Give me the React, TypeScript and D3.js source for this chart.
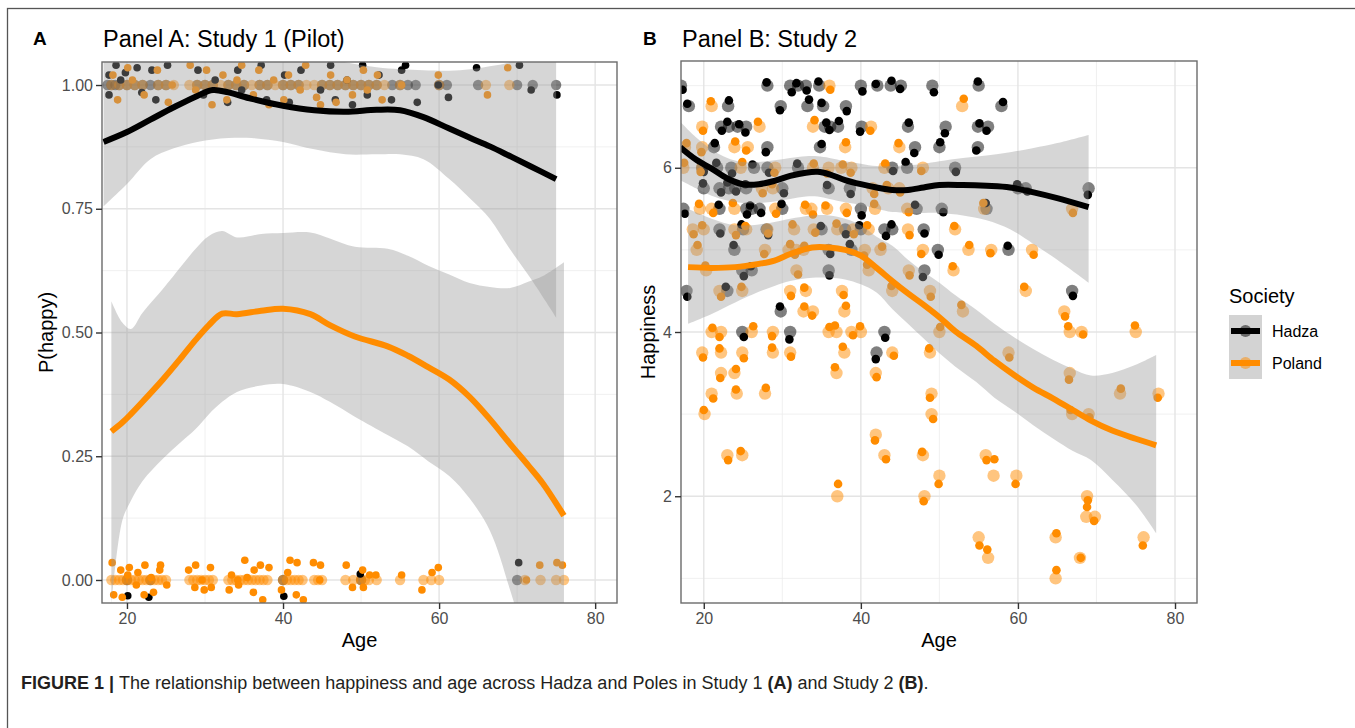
import React, { useEffect, useRef } from "react"
import * as d3 from "d3"

// [age, value, jitter in age, jitter in value] -> big dot at value, small dot at the jittered copy
type Obs = [number, number, number, number]
// [age, fit, lower, upper]
type Fit = [number, number, number, number]

const societies = ["Hadza", "Poland"]
const societyColors = ["#000000", "#ff8c00"]

const ageTicks = [20, 40, 60, 80]
const ageMinor = [30, 50, 70]
const probTicks = [0, 0.25, 0.5, 0.75, 1]
const probLabels = ["0.00", "0.25", "0.50", "0.75", "1.00"]
const probMinor = [0.125, 0.375, 0.625, 0.875]
const happyTicks = [2, 4, 6]
const happyLabels = ["2", "4", "6"]
const happyMinor = [1, 3, 5, 7]

// ---- Panel A: Study 1 (Pilot)
const hadzaA: Obs[] = [
  [17.5,1,0.2,0.02],[18,1,-0.3,-0.02],[18.5,1,0.1,0.04],[19,1,0.2,0.01],[20,1,-0.2,0.025],[21,1,0.3,0.035],[22,1,-0.1,-0.015],[23,1,0.2,0.03],[24,1,-0.3,-0.03],[25,1,0.2,0.04],
  [29,1,0.1,0.03],[30,1,-0.2,-0.02],[31,1,0.3,0.01],[33,1,-0.1,-0.035],[34,1,0.2,0.03],[35,1,-0.3,-0.01],[37,1,0.2,0.04],[38,1,-0.1,-0.03],[40,1,0.2,0.02],[41,1,-0.2,-0.035],[42,1,0.3,0.03],
  [45,1,-0.2,-0.01],[46,1,0.1,0.04],[47,1,-0.3,-0.03],[48,1,0.2,0.01],[49,1,-0.1,-0.04],[50,1,0.2,0.04],[51,1,-0.2,-0.02],[52,1,0.3,0.02],[54,1,-0.1,-0.03],[55,1,0.2,0.03],[56,1,-0.3,0.04],[57,1,0.2,-0.035],
  [60,1,-0.1,0.0],[61,1,0.2,-0.025],[65,1,-0.2,0.035],[70,1,0.3,0.04],[72,1,-0.2,-0.01],[75,1,0.1,-0.02],
  [20,0,0.1,-0.032],[23,0,-0.2,-0.035],[40,0,0.1,-0.033],[50,0,-0.1,0.012],[70,0,0.2,0.035],
]
const polandA: Obs[] = [
  [18,1,0.2,0.02],[19,1,-0.2,-0.03],[20,1,0.1,0.035],[21,1,-0.3,0.01],[22,1,0.2,-0.02],[24,1,-0.1,0.03],[25,1,0.3,-0.035],[26,1,-0.2,0.0],[28,1,0.1,0.04],[29,1,-0.2,-0.01],
  [30,1,0.2,0.03],[31,1,-0.1,-0.04],[32,1,0.3,0.02],[33,1,-0.2,-0.03],[34,1,0.1,0.01],[35,1,-0.3,0.04],[36,1,0.2,-0.02],[37,1,-0.1,0.03],[38,1,0.2,-0.04],[39,1,-0.2,0.01],
  [40,1,0.1,-0.03],[41,1,-0.3,0.02],[42,1,0.2,-0.01],[43,1,-0.1,0.04],[44,1,0.3,-0.025],[45,1,-0.2,-0.04],[46,1,0.1,0.02],[47,1,-0.2,-0.035],[48,1,0.2,0.01],[49,1,-0.1,-0.02],
  [50,1,0.3,0.03],[51,1,-0.2,-0.01],[52,1,0.1,0.02],[53,1,-0.3,-0.03],[55,1,0.2,0.0],[60,1,-0.1,0.02],[66,1,0.2,-0.02],[69,1,-0.2,0.035],
  [18,0,0.1,0.035],[18.5,0,-0.2,-0.03],[19,0,0.2,0.02],[19.5,0,-0.1,-0.035],[20,0,0.1,0.01],[20.5,0,-0.2,0.025],[21,0,0.2,-0.01],[21.5,0,-0.1,0.015],[22,0,0.2,-0.03],[22.5,0,-0.2,0.03],
  [23,0,0.1,0.005],[23.5,0,-0.1,-0.025],[24,0,0.2,0.02],[24.5,0,-0.2,0.03],[25,0,0.1,-0.01],[28,0,-0.1,0.02],[28.5,0,0.2,-0.015],[29,0,-0.2,0.03],[29.5,0,0.1,0.0],[30,0,-0.1,-0.02],
  [30.5,0,0.2,0.025],[31,0,-0.2,-0.015],[33,0,0.1,-0.02],[33.5,0,-0.1,0.01],[34,0,0.2,0.0],[34.5,0,-0.2,-0.01],[35,0,0.1,0.04],[35.5,0,-0.1,0.005],[36,0,0.2,-0.025],[36.5,0,-0.2,0.02],
  [37,0,0.1,0.03],[37.5,0,-0.1,-0.04],[38,0,0.2,0.025],[40,0,-0.2,-0.02],[40.5,0,0.1,0.015],[41,0,-0.1,0.04],[41.5,0,0.2,-0.03],[42,0,-0.2,0.035],[42.5,0,0.1,-0.04],[44,0,-0.1,0.035],
  [44.5,0,0.2,0.0],[45,0,-0.2,0.03],[48,0,0.1,0.03],[49,0,-0.1,-0.015],[50,0,0.2,0.02],[50.5,0,-0.2,-0.015],[51,0,0.1,0.01],[52,0,-0.1,0.01],[55,0,0.2,0.01],[58,0,-0.2,-0.02],
  [59,0,0.1,0.015],[60,0,-0.1,0.025],[71,0,0.2,0.0],[73,0,-0.1,0.03],[75,0,0.1,0.035],[76,0,-0.2,0.03],
]
const hadzaFitA: Fit[] = [
  [17,0.885,0.755,1.1],[20,0.905,0.8,1.08],[23,0.93,0.85,1.08],[26,0.955,0.872,1.09],[29,0.978,0.885,1.1],[31,0.99,0.89,1.1],[33,0.985,0.893,1.09],
  [36,0.972,0.893,1.08],[40,0.958,0.885,1.07],[44,0.949,0.87,1.06],[48,0.946,0.86,1.046],[52,0.95,0.86,1.036],[55,0.949,0.86,1.032],[58,0.935,0.85,1.03],
  [61.3,0.912,0.81,1.029],[64,0.893,0.77,1.032],[66.5,0.876,0.73,1.038],[69,0.857,0.67,1.046],[71.7,0.836,0.61,1.07],[75,0.81,0.53,1.1],
]
const polandFitA: Fit[] = [
  [18,0.3,-0.05,0.563],[19.4,0.318,0.12,0.52],[20.5,0.335,0.16,0.507],[22,0.36,0.2,0.54],[24.6,0.405,0.245,0.588],[27,0.45,0.28,0.635],[28.8,0.485,0.305,0.669],
  [30.5,0.515,0.335,0.695],[32.2,0.538,0.36,0.705],[34.1,0.537,0.38,0.692],[37.2,0.544,0.393,0.699],[40,0.548,0.396,0.701],[43.5,0.537,0.38,0.702],[46,0.515,0.36,0.69],
  [49.2,0.492,0.33,0.673],[53.4,0.472,0.293,0.669],[56,0.453,0.27,0.655],[58.6,0.43,0.24,0.635],[61.3,0.405,0.21,0.617],[63.9,0.37,0.165,0.6],[66.5,0.325,0.1,0.592],
  [69.1,0.275,-0.02,0.59],[71.5,0.23,-0.15,0.603],[73.3,0.195,-0.25,0.614],[76,0.13,-0.45,0.642],
]

// ---- Panel B: Study 2
const hadzaB: Obs[] = [
  [17.1,7,0.2,-0.05],[28.1,7,-0.1,0.04],[31,7,0.2,-0.08],[32,7,-0.2,0.03],[33,7,0.1,-0.06],[34.7,7,-0.1,0.05],[40,7,0.2,-0.07],[42.1,7,-0.2,0.02],[43.8,7,0.1,0.06],[45.1,7,-0.1,-0.04],[49.1,7,0.2,-0.08],[55,7,-0.1,0.05],
  [18.1,6.75,-0.2,0.03],[23.1,6.75,0.1,0.07],[29.8,6.75,-0.1,-0.05],[33.2,6.75,0.2,0.08],[35.2,6.75,-0.2,0.04],[38.1,6.75,0.1,-0.06],[57.9,6.75,0.2,0.05],
  [22.2,6.5,0.1,-0.05],[23.2,6.5,-0.2,0.06],[24.3,6.5,0.2,0.03],[25.4,6.5,-0.1,-0.07],[35.4,6.5,0.2,0.05],[36.1,6.5,-0.1,-0.04],[37.1,6.5,0.1,0.07],[40.1,6.5,-0.2,-0.06],[46,6.5,0.1,0.05],[50.8,6.5,-0.1,-0.08],[54.9,6.5,0.2,0.04],[56.2,6.5,-0.2,-0.05],
  [21.3,6.25,0.1,0.05],[28.1,6.25,-0.2,-0.06],[34.8,6.25,0.2,0.04],[46.9,6.25,-0.1,-0.07],[50,6.25,0.1,0.06],[54.9,6.25,-0.2,-0.04],
  [19.8,6,0.2,-0.05],[21.7,6,-0.1,0.06],[23.5,6,0.1,-0.07],[26.4,6,-0.2,0.04],[28.1,6,0.2,-0.06],[32,6,-0.1,0.05],[44,6,0.1,-0.04],[45.9,6,-0.2,0.07],[52,6,0.1,-0.05],
  [20,5.75,-0.1,0.06],[22,5.75,0.2,-0.05],[23.2,5.75,-0.2,0.07],[24,5.75,0.1,-0.04],[25.4,5.75,-0.1,0.05],[30,5.75,0.2,-0.06],[35.9,5.75,-0.2,0.04],[38.6,5.75,0.1,-0.07],[60,5.75,-0.1,0.05],[61,5.75,0.2,-0.04],[69,5.75,-0.1,-0.08],
  [17.4,5.5,0.2,-0.06],[22,5.5,-0.1,0.05],[25.4,5.5,0.1,-0.07],[26.1,5.5,-0.2,0.04],[27.1,5.5,0.2,-0.05],[30,5.5,-0.1,0.06],[40,5.5,0.1,-0.08],[47.1,5.5,-0.2,0.05],[50.3,5.5,0.2,-0.04],[56,5.5,-0.1,0.07],
  [22,5.25,0.1,-0.05],[25,5.25,-0.2,0.06],[28,5.25,0.2,-0.07],[35,5.25,-0.1,0.04],[38,5.25,0.1,-0.06],[40,5.25,-0.2,0.05],[43,5.25,0.2,-0.08],[44,5.25,-0.1,0.06],[48,5.25,0.1,-0.05],
  [23.9,5,-0.1,0.06],[35.9,5,0.2,-0.05],[38.8,5,-0.2,0.07],[49.8,5,0.1,-0.06],[58.8,5,-0.1,0.05],
  [24.9,4.75,0.2,-0.07],[26.1,4.75,-0.1,0.05],[35.9,4.75,0.1,-0.06],[48.1,4.75,-0.2,-0.08],
  [17.8,4.5,0.1,-0.07],[23,4.5,-0.2,0.05],[66.9,4.5,0.1,-0.06],
  [29.8,4.25,-0.1,0.06],
  [24.9,4,0.2,-0.06],[31,4,-0.1,-0.09],[43,4,0.1,-0.07],
  [42,3.75,-0.1,-0.08],
]
const polandB: Obs[] = [
  [36,7,0.1,-0.05],
  [21,6.75,-0.1,0.06],[52.9,6.75,0.2,0.09],
  [19.8,6.5,0.1,-0.05],[27.1,6.5,-0.2,0.06],[33.9,6.5,0.2,0.08],[41.3,6.5,-0.1,-0.05],
  [17.6,6.25,0.2,0.05],[19.8,6.25,-0.1,-0.06],[23.9,6.25,0.1,0.07],[25.6,6.25,-0.2,-0.04],[38,6.25,0.1,0.06],[44.9,6.25,-0.1,0.05],
  [17.4,6,0.1,0.06],[19.8,6,-0.2,-0.05],[24.7,6,0.2,0.07],[29.1,6,-0.1,-0.06],[33.9,6,0.1,0.05],[35.9,6,-0.2,-0.07],[37.5,6,0.2,0.04],[38.8,6,-0.1,-0.06],[43,6,0.1,0.05],[47.9,6,-0.2,-0.04],
  [27.4,5.75,0.1,-0.06],[28.8,5.75,-0.1,0.05],[41.5,5.75,0.2,-0.07],[43.5,5.75,-0.2,0.04],[44.9,5.75,0.1,-0.05],
  [19.5,5.5,-0.1,0.06],[21,5.5,0.2,-0.05],[23.9,5.5,-0.2,0.07],[29.1,5.5,0.1,-0.06],[33,5.5,-0.1,0.05],[33.7,5.5,0.2,-0.07],[35.7,5.5,-0.2,0.04],[38.1,5.5,0.1,-0.05],[41.8,5.5,-0.1,0.06],[45.9,5.5,0.2,-0.04],[55.7,5.5,-0.1,0.07],[66.9,5.5,0.1,-0.05],
  [18.6,5.25,0.1,-0.06],[20,5.25,-0.2,0.05],[23.9,5.25,0.2,-0.07],[25.4,5.25,-0.1,0.04],[28.1,5.25,0.1,-0.05],[31.5,5.25,-0.2,0.06],[34,5.25,0.2,-0.04],[37,5.25,-0.1,0.07],[39,5.25,0.1,-0.06],[41,5.25,-0.2,0.05],[46,5.25,0.2,-0.07],[52,5.25,-0.1,0.04],
  [19.1,5,0.1,0.06],[27.8,5,-0.1,-0.05],[30.8,5,0.2,0.07],[31.8,5,-0.2,-0.06],[32.7,5,0.1,0.05],[40.5,5,-0.1,-0.07],[42.5,5,0.2,0.04],[47.9,5,-0.2,-0.05],[53.7,5,0.1,0.06],[56.6,5,-0.1,-0.04],[61.8,5,0.2,-0.06],
  [20.3,4.75,-0.1,0.06],[31.8,4.75,0.2,-0.05],[41,4.75,-0.2,0.07],[46.1,4.75,0.1,-0.06],[51.8,4.75,-0.1,0.05],
  [22,4.5,0.2,-0.07],[24.9,4.5,-0.1,0.05],[31,4.5,0.1,-0.06],[33,4.5,-0.2,0.04],[37.6,4.5,0.2,-0.05],[44,4.5,-0.1,0.06],[48.8,4.5,0.1,-0.07],[61,4.5,-0.2,0.05],
  [32.7,4.25,0.1,0.06],[33.9,4.25,-0.1,-0.05],[37.9,4.25,0.2,0.07],[53,4.25,-0.2,0.08],[65.9,4.25,0.1,-0.06],
  [21,4,0.1,0.05],[22.2,4,-0.2,-0.06],[26.1,4,0.2,0.07],[28.8,4,-0.1,-0.05],[35.9,4,0.1,0.06],[36.9,4,-0.2,0.08],[38.8,4,0.2,-0.04],[40,4,-0.1,0.07],[50,4,0.1,0.06],[66.6,4,-0.2,0.07],[68.1,4,0.2,-0.03],[75,4,-0.1,0.08],
  [19.8,3.75,0.1,-0.06],[22.2,3.75,-0.2,0.05],[24.9,3.75,0.2,-0.07],[28.8,3.75,-0.1,0.06],[31,3.75,0.1,-0.05],[37.9,3.75,-0.2,0.07],[44,3.75,0.2,-0.04],[48.8,3.75,-0.1,0.05],[58.8,3.75,0.1,-0.06],
  [22.2,3.5,-0.1,-0.06],[23.9,3.5,0.2,0.05],[36.9,3.5,-0.2,0.07],[41.9,3.5,0.1,-0.05],[66.6,3.5,-0.1,-0.08],
  [21,3.25,0.2,-0.06],[24.2,3.25,-0.1,0.05],[27.8,3.25,0.1,0.07],[49,3.25,-0.2,-0.05],[73,3.25,0.1,0.06],[77.9,3.25,-0.1,-0.05],
  [20.1,3,-0.1,0.05],[49,3,0.2,-0.06],[66.9,3,-0.2,0.05],[69,3,0.1,-0.04],
  [41.9,2.75,-0.1,-0.07],
  [23,2.5,0.1,-0.06],[24.9,2.5,-0.2,0.05],[43,2.5,0.2,-0.05],[47.9,2.5,-0.1,0.04],[55.9,2.5,0.1,-0.06],
  [50,2.25,-0.1,-0.1],[56.9,2.25,0.1,0.2],[59.8,2.25,-0.1,-0.1],
  [37,2,0.1,0.15],[48.1,2,-0.1,-0.06],[68.8,2,0.1,-0.05],
  [68.7,1.75,0.1,0.12],[69.8,1.75,-0.1,-0.05],
  [55,1.5,0.1,-0.1],[64.8,1.5,0.1,0.05],[76,1.5,-0.1,-0.1],
  [56.2,1.25,-0.1,0.1],[67.9,1.25,0.1,0.0],
  [64.8,1,0.1,0.1],
]
const hadzaFitB: Fit[] = [
  [17,6.25,5.85,6.56],[19,6.1,5.75,6.37],[21,5.99,5.66,6.22],[23,5.87,5.6,6.12],[25,5.8,5.57,6.07],[27,5.8,5.57,6.07],[29,5.84,5.59,6.09],[31,5.9,5.62,6.12],
  [33,5.94,5.65,6.14],[34.5,5.95,5.65,6.14],[36,5.92,5.62,6.12],[38,5.85,5.58,6.08],[40,5.8,5.55,6.05],[42,5.76,5.5,6.02],[44,5.73,5.46,6.02],[46,5.73,5.45,6.03],
  [48,5.76,5.45,6.05],[50,5.79,5.45,6.08],[53,5.79,5.42,6.12],[56,5.78,5.36,6.15],[59,5.76,5.25,6.19],[62,5.7,5.07,6.24],[65,5.63,4.88,6.3],[69,5.52,4.6,6.4],
]
const polandFitB: Fit[] = [
  [18,4.79,4.1,5.5],[21,4.78,4.22,5.38],[24,4.79,4.36,5.3],[27,4.83,4.49,5.31],[29,4.87,4.56,5.34],[31,4.95,4.62,5.38],[33.8,5.03,4.66,5.42],[36,5.03,4.66,5.42],
  [38,5.0,4.64,5.38],[40,4.93,4.58,5.3],[42,4.78,4.48,5.16],[44,4.62,4.28,5.05],[46,4.47,4.1,4.88],[48,4.33,3.92,4.73],[50,4.18,3.74,4.6],[52,4.01,3.58,4.45],
  [54.7,3.83,3.39,4.27],[57,3.65,3.2,4.1],[59.6,3.47,3.03,3.93],[62,3.32,2.86,3.79],[64.5,3.19,2.7,3.66],[67,3.05,2.55,3.55],[69.3,2.92,2.44,3.47],[72,2.8,2.2,3.5],
  [75,2.7,1.9,3.6],[77.6,2.62,1.55,3.72],
]

const FONT = "'Liberation Sans', Arial, Helvetica, sans-serif"

function drawPanel(svg: any, p: any) {
  const x = d3.scaleLinear().domain(p.xDomain).range([p.left, p.right])
  const y = d3.scaleLinear().domain(p.yDomain).range([p.bottom, p.top])
  const clipId = "clip-" + p.id

  svg.append("clipPath").attr("id", clipId)
    .append("rect").attr("x", p.left).attr("y", p.top)
    .attr("width", p.right - p.left).attr("height", p.bottom - p.top)

  const grid = svg.append("g")
  grid.selectAll(".vmin").data(ageMinor).enter().append("line")
    .attr("x1", (d: number) => x(d)).attr("x2", (d: number) => x(d))
    .attr("y1", p.top).attr("y2", p.bottom)
    .attr("stroke", "#ececec").attr("stroke-width", 0.8)
  grid.selectAll(".hmin").data(p.yMinor).enter().append("line")
    .attr("x1", p.left).attr("x2", p.right)
    .attr("y1", (d: number) => y(d)).attr("y2", (d: number) => y(d))
    .attr("stroke", "#ececec").attr("stroke-width", 0.8)
  grid.selectAll(".vmaj").data(ageTicks).enter().append("line")
    .attr("x1", (d: number) => x(d)).attr("x2", (d: number) => x(d))
    .attr("y1", p.top).attr("y2", p.bottom)
    .attr("stroke", "#e4e4e4").attr("stroke-width", 1.4)
  grid.selectAll(".hmaj").data(p.yTicks).enter().append("line")
    .attr("x1", p.left).attr("x2", p.right)
    .attr("y1", (d: number) => y(d)).attr("y2", (d: number) => y(d))
    .attr("stroke", "#e4e4e4").attr("stroke-width", 1.4)

  const plot = svg.append("g").attr("clip-path", `url(#${clipId})`)

  // translucent points at the recorded value
  p.obs.forEach((obs: Obs[], i: number) => {
    plot.append("g").selectAll("circle").data(obs).enter().append("circle")
      .attr("cx", (d: Obs) => x(d[0])).attr("cy", (d: Obs) => y(d[1]))
      .attr("r", p.bigR).attr("fill", societyColors[i]).attr("fill-opacity", 0.5)
  })
  // jittered copies
  p.obs.forEach((obs: Obs[], i: number) => {
    plot.append("g").selectAll("circle").data(obs).enter().append("circle")
      .attr("cx", (d: Obs) => x(d[0] + d[2])).attr("cy", (d: Obs) => y(d[1] + d[3]))
      .attr("r", p.smallR).attr("fill", societyColors[i])
  })

  // loess ribbons and lines
  const area = d3.area<Fit>().x(d => x(d[0])).y0(d => y(d[2])).y1(d => y(d[3])).curve(d3.curveCatmullRom)
  const line = d3.line<Fit>().x(d => x(d[0])).y(d => y(d[1])).curve(d3.curveCatmullRom)
  p.fits.forEach((fit: Fit[]) => {
    plot.append("path").attr("d", area(fit)).attr("fill", "#999999").attr("fill-opacity", 0.4)
  })
  p.fits.forEach((fit: Fit[], i: number) => {
    plot.append("path").attr("d", line(fit)).attr("fill", "none")
      .attr("stroke", societyColors[i]).attr("stroke-width", 6)
  })

  svg.append("rect").attr("x", p.left).attr("y", p.top)
    .attr("width", p.right - p.left).attr("height", p.bottom - p.top)
    .attr("fill", "none").attr("stroke", "#6b6b6b").attr("stroke-width", 1.4)

  const xAxis = svg.append("g").attr("transform", `translate(0,${p.bottom})`)
    .call(d3.axisBottom(x).tickValues(ageTicks).tickSize(6).tickPadding(4))
  const yAxis = svg.append("g").attr("transform", `translate(${p.left},0)`)
    .call(d3.axisLeft(y).tickValues(p.yTicks).tickSize(6).tickPadding(3)
      .tickFormat((d: any, i: number) => p.yLabels[i]))
  ;[xAxis, yAxis].forEach(ax => {
    ax.select(".domain").remove()
    ax.selectAll("line").attr("stroke", "#333").attr("stroke-width", 1.4)
    ax.selectAll("text").attr("fill", "#4d4d4d").style("font-size", "16px").style("font-family", FONT)
  })

  svg.append("text").attr("x", (p.left + p.right) / 2).attr("y", 647)
    .attr("text-anchor", "middle").style("font-size", "20px").style("font-family", FONT)
    .text("Age")
  svg.append("text").attr("transform", `translate(${p.yTitleX},${(p.top + p.bottom) / 2}) rotate(-90)`)
    .attr("text-anchor", "middle").style("font-size", "20px").style("font-family", FONT)
    .text(p.yTitle)
  svg.append("text").attr("x", p.letterX).attr("y", 45)
    .style("font-size", "19px").style("font-weight", "bold").style("font-family", FONT)
    .text(p.letter)
  svg.append("text").attr("x", p.left + 1).attr("y", 47)
    .style("font-size", "23.5px").style("font-family", FONT)
    .text(p.title)
}

export default function App() {
  const ref = useRef<SVGSVGElement>(null)

  useEffect(() => {
    document.body.style.margin = "0"
    const svg = d3.select(ref.current)
    svg.selectAll("*").remove()

    svg.append("rect").attr("width", 1355).attr("height", 728).attr("fill", "#fff")
    svg.append("rect").attr("x", 7.5).attr("y", 8.5).attr("width", 2000).attr("height", 2000)
      .attr("fill", "none").attr("stroke", "#555").attr("stroke-width", 1.3)

    drawPanel(svg, {
      id: "a", left: 102, right: 617, top: 62, bottom: 603,
      xDomain: [16.8, 82.8], yDomain: [-0.0465, 1.0465],
      yTicks: probTicks, yLabels: probLabels, yMinor: probMinor,
      obs: [hadzaA, polandA], fits: [hadzaFitA, polandFitA],
      bigR: 5.2, smallR: 3.8,
      title: "Panel A: Study 1 (Pilot)", letter: "A", letterX: 33,
      yTitle: "P(happy)", yTitleX: 53,
    })
    drawPanel(svg, {
      id: "b", left: 681, right: 1197, top: 61, bottom: 603,
      xDomain: [17.1, 82.8], yDomain: [0.7, 7.3],
      yTicks: happyTicks, yLabels: happyLabels, yMinor: happyMinor,
      obs: [hadzaB, polandB], fits: [hadzaFitB, polandFitB],
      bigR: 6.2, smallR: 4.3,
      title: "Panel B: Study 2", letter: "B", letterX: 643,
      yTitle: "Happiness", yTitleX: 655,
    })

    // legend
    const lg = svg.append("g")
    lg.append("text").attr("x", 1229).attr("y", 303)
      .style("font-size", "20px").style("font-family", FONT).text("Society")
    societies.forEach((s, i) => {
      const cy = 331 + i * 32
      lg.append("rect").attr("x", 1229).attr("y", cy - 16).attr("width", 33).attr("height", 32)
        .attr("fill", "#d3d3d3")
      lg.append("circle").attr("cx", 1245.5).attr("cy", cy).attr("r", 6)
        .attr("fill", societyColors[i]).attr("fill-opacity", 0.5)
      lg.append("line").attr("x1", 1231).attr("x2", 1260).attr("y1", cy).attr("y2", cy)
        .attr("stroke", societyColors[i]).attr("stroke-width", 6)
      lg.append("text").attr("x", 1272).attr("y", cy + 6)
        .style("font-size", "16px").style("font-family", FONT).text(s)
    })

    // caption
    const cap = svg.append("text").attr("x", 21).attr("y", 689)
      .style("font-size", "18px").style("font-family", FONT).attr("fill", "#231f20")
    cap.append("tspan").style("font-weight", "bold").text("FIGURE 1 | ")
    cap.append("tspan").text("The relationship between happiness and age across Hadza and Poles in Study 1 ")
    cap.append("tspan").style("font-weight", "bold").text("(A)")
    cap.append("tspan").text(" and Study 2 ")
    cap.append("tspan").style("font-weight", "bold").text("(B)")
    cap.append("tspan").text(".")
  }, [])

  return <svg ref={ref} width={1355} height={728} style={{ display: "block" }} />
}
